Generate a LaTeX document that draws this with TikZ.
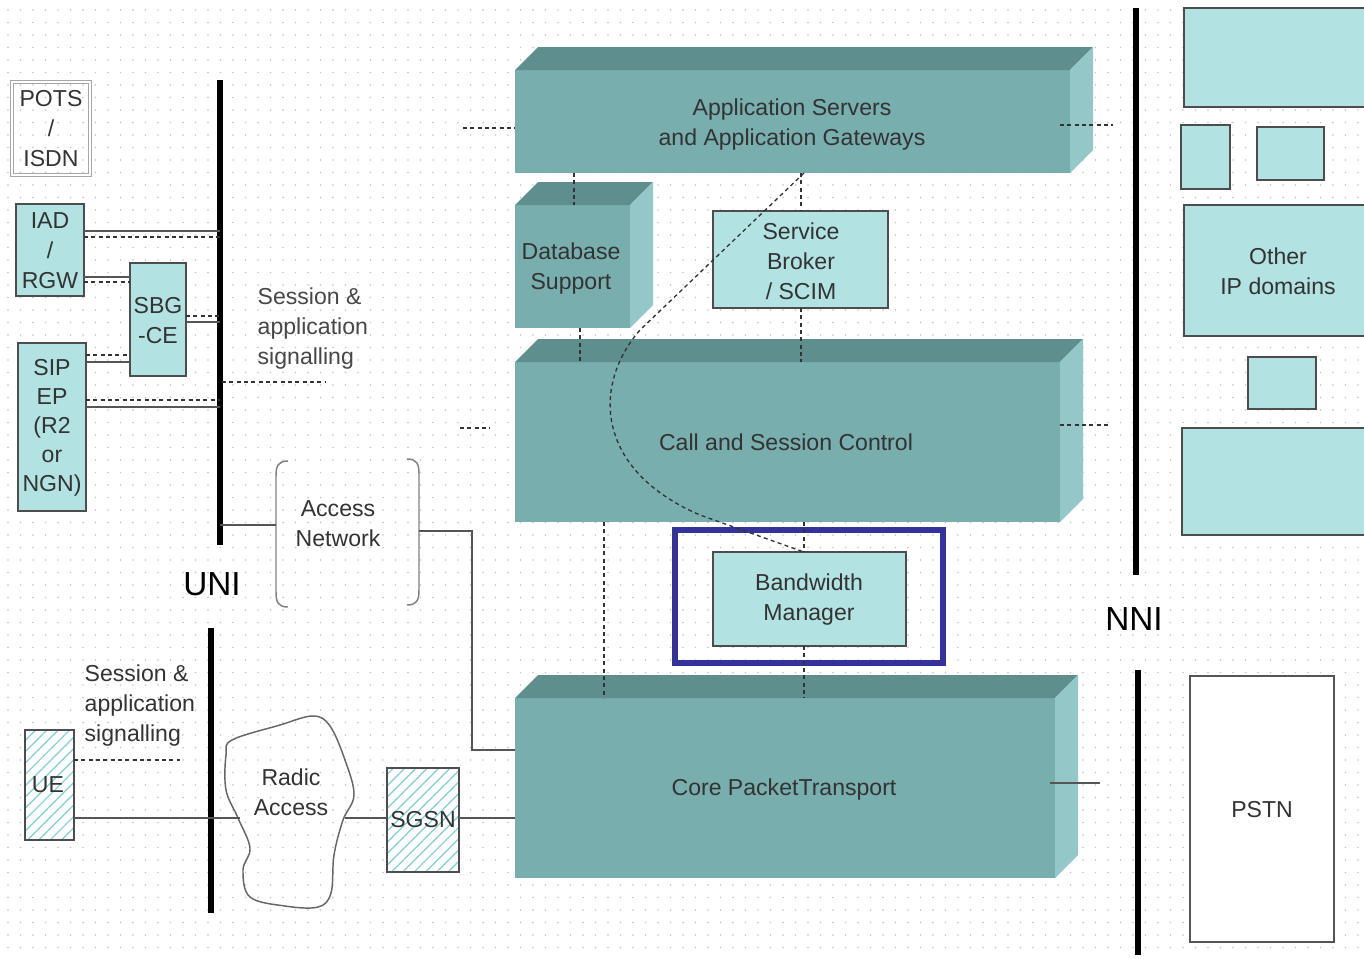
\documentclass[tikz,border=0pt]{standalone}
\usepackage{fontspec}
\setmainfont{Liberation Sans}
\usetikzlibrary{fit,patterns.meta}
\definecolor{frontc}{HTML}{78AEAE}
\definecolor{topc}{HTML}{5E8E8E}
\definecolor{sidec}{HTML}{94C8C8}
\definecolor{flatc}{HTML}{B2E2E2}
\definecolor{bord}{HTML}{4D4D4D}
\definecolor{txt}{HTML}{333333}
\definecolor{framec}{HTML}{333399}
\definecolor{hatchc}{HTML}{7FCFD6}
\definecolor{dotc}{HTML}{C4C4C4}
\definecolor{linec}{HTML}{555555}
\newcommand\lblfont{\fontsize{17.3}{22.5}\selectfont}
\begin{document}
\begin{tikzpicture}[x=0.75pt,y=-0.75pt,
  lbl/.style={font=\lblfont, text=txt, align=center},
  flat/.style={draw=bord, line width=1.1pt, fill=flatc, inner sep=0pt, outer sep=0pt},
  face/.style={fill=frontc, inner sep=0pt, outer sep=0pt},
  hatchbox/.style={draw=bord, line width=1.1pt, inner sep=0pt, outer sep=0pt,
     preaction={fill=white}, pattern={Lines[angle=45,distance=6pt,line width=0.9pt]}, pattern color=hatchc},
  plainbox/.style={draw=linec, line width=1.1pt, fill=white, inner sep=0pt, outer sep=0pt},
  conn/.style={draw=linec, line width=1.1pt},
  dline/.style={draw=txt, line width=1pt, dash pattern=on 3pt off 2.5pt},
  bar/.style={draw=black, line width=3.8pt},
  topface/.style={fill=topc},
  sideface/.style={fill=sidec}
]
\fill[white] (0,0) rectangle (1364,958);
\useasboundingbox (0,0) rectangle (1364,958);
% dotted background
\foreach \y in {10,22.5,...,958} {
  \draw[dotc, line width=1.3pt, line cap=round, dash pattern=on 0pt off 9.375pt] (8,\y) -- (1364,\y);
}

% ---------- 3D boxes ----------
\node[face, fit={(515,70)(1070,173)}] (app) {};
\node[lbl] (applbl) at (792,125) {Application Servers\\and Application Gateways};
\node[face, fit={(515,205)(630,328)}] (db) {};
\node[lbl] (dblbl) at (571,269) {Database\\Support};
\node[face, fit={(515,362)(1060,522)}] (call) {};
\node[lbl] (calllbl) at (786,442) {Call and Session Control};
\node[face, fit={(515,698)(1055,878)}] (core) {};
\node[lbl] (corelbl) at (784,790) {Core PacketTransport};
\foreach \n in {app,db,call,core} {
  \fill[topface] (\n.north west) -- ++(23,-23) -- ([shift={(23,-23)}]\n.north east) -- (\n.north east) -- cycle;
  \fill[sideface] (\n.north east) -- ++(23,-23) -- ([shift={(23,-23)}]\n.south east) -- (\n.south east) -- cycle;
}

% ---------- flat boxes ----------
\node[flat, fit={(713,211)(888,308)}] (sb) {};
\node[lbl] (sblbl) at (801,261) {Service\\Broker\\/ SCIM};
\node[flat, fit={(713,552)(906,646)}] (bw) {};
\node[lbl] (bwlbl) at (809,600) {Bandwidth\\Manager};
\draw[framec, line width=3.8pt] (675,530) rectangle (943,663);

% ---------- connectors among central boxes ----------
\coordinate (xa) at (574,0);
\coordinate (xb) at (580,0);
\coordinate (xc) at (801,0);
\coordinate (xd) at (804,0);
\coordinate (xe) at (604,0);
\draw[dline] (app.south -| xa) -- (db.north -| xa);
\draw[dline] (db.south -| xb) -- (call.north -| xb);
\draw[dline] (app.south -| xc) -- (sb.north -| xc);
\draw[dline] (sb.south -| xc) -- (call.north -| xc);
\draw[dline] (call.south -| xd) -- (bw.north -| xd);
\draw[dline] (bw.south -| xd) -- (core.north -| xd);
\draw[dline] (call.south -| xe) -- (core.north -| xe);
\draw[dline] (app.south -| xd) -- (640,330) .. controls (592,385) and (595,470) .. (700,515) -- (bw.north -| xd);
% stubs left and right
\coordinate (aL) at (463,128);
\coordinate (aR) at (1113,125);
\coordinate (cL) at (460,428);
\coordinate (cR) at (1110,425);
\coordinate (kR) at (1100,783);
\draw[dline] (aL) -- (app.west |- aL);
\draw[dline] (1060,125) -- (aR);
\draw[dline] (cL) -- (490,428);
\draw[dline] (1060,425) -- (cR);
\draw[conn] (1050,783) -- (kR);

% ---------- UNI / NNI bars ----------
\coordinate (uniTop) at (220,80);
\coordinate (uniBot) at (220,545);
\draw[bar] (uniTop) -- (uniBot);
\draw[bar] (211,628) -- (211,913);
\node[font=\fontsize{25}{25}\selectfont, text=black] (uni) at (212,584) {UNI};
\draw[bar] (1136,8) -- (1136,575);
\draw[bar] (1138,670) -- (1138,955);
\node[font=\fontsize{25}{25}\selectfont, text=black] (nni) at (1134,619) {NNI};

% ---------- left terminals ----------
\node[fit={(12,82)(90,175)}, inner sep=0pt, draw=gray!70, double=white, line width=0.9pt, double distance=1.2pt] (pots) {};
\node[lbl] (potslbl) at (51,129) {POTS\\/\\ISDN};
\node[flat, fit={(16,204)(84,296)}] (iad) {};
\node[lbl] (iadlbl) at (50,251) {IAD\\/\\RGW};
\node[flat, fit={(130,263)(186,376)}] (sbg) {};
\node[lbl] (sbglbl) at (158,321) {SBG\\-CE};
\node[flat, fit={(18,343)(86,511)}] (sip) {};
\node[lbl, font=\fontsize{17.3}{21.8}\selectfont] (siplbl) at (52,428) {SIP\\EP\\(R2\\or\\NGN)};

\coordinate (u231) at (220,231);
\coordinate (u237) at (220,237);
\coordinate (u316) at (220,316);
\coordinate (u322) at (220,322);
\coordinate (u400) at (220,400);
\coordinate (u407) at (220,407);
\coordinate (s277) at (130,277);
\coordinate (s282) at (130,282);
\coordinate (s355) at (130,355);
\coordinate (s362) at (130,362);
\draw[conn] (iad.east |- u231) -- (u231);
\draw[dline] (iad.east |- u237) -- (u237);
\draw[conn] (iad.east |- s277) -- (sbg.west |- s277);
\draw[dline] (iad.east |- s282) -- (sbg.west |- s282);
\draw[dline] (sbg.east |- u316) -- (u316);
\draw[conn] (sbg.east |- u322) -- (u322);
\draw[dline] (sip.east |- s355) -- (sbg.west |- s355);
\draw[conn] (sip.east |- s362) -- (sbg.west |- s362);
\draw[dline] (sip.east |- u400) -- (u400);
\draw[conn] (sip.east |- u407) -- (u407);
\coordinate (sig1) at (325,382);
\draw[dline] (222,382) -- (sig1);
\node[lbl, align=left, anchor=west, text=txt!90] (sess1) at (253,329) {Session \&\\application\\signalling};

% ---------- access network ----------
\node[fit={(276,460)(420,607)}, inner sep=0pt] (acc) {};
\node[lbl] (acclbl) at (338,524) {Access\\Network};
\draw[conn, draw=gray] (288,461) .. controls (278,461) and (276,466) .. (276,476) -- (276,592) .. controls (276,602) and (278,607) .. (288,607);
\draw[conn, draw=gray] (407,459) .. controls (417,459) and (419,464) .. (419,474) -- (419,590) .. controls (419,600) and (417,605) .. (407,605);
\coordinate (uniA) at (220,525);
\coordinate (accR) at (419,531);
\coordinate (core750) at (472,750);
\draw[conn] (uniA) -- (acc.west |- uniA);
\draw[conn] (accR) -- (472,531) -- (core750) -- (core.west |- core750);

% ---------- lower left ----------
\node[lbl, align=left, anchor=west] (sess2) at (80,706) {Session \&\\application\\signalling};
\node[hatchbox, fit={(25,730)(74,840)}] (ue) {};
\node[lbl] (uelbl) at (48,785) {UE};
\coordinate (uesig) at (180,760);
\draw[dline] (ue.east |- uesig) -- (uesig);
\draw[conn, draw=gray!80!black, line width=1.1pt] plot[smooth cycle, tension=0.6] coordinates {(232,740) (280,725) (313,716) (330,726) (345,760) (354,795) (343,820) (334,855) (331,893) (318,907) (285,906) (250,897) (243,870) (250,848) (238,818) (226,790) (226,755)};
\node[lbl] (radio) at (291,792) {Radic\\Access};
\coordinate (cloudL) at (240,818);
\coordinate (cloudR) at (345,818);
\draw[conn] (ue.east |- cloudL) -- (cloudL);
\node[hatchbox, fit={(387,768)(459,872)}] (sgsn) {};
\node[lbl] (sgsnlbl) at (423,820) {SGSN};
\draw[conn] (cloudR) -- (sgsn.west |- cloudR);
\draw[conn] (sgsn.east |- cloudR) -- (core.west |- cloudR);

% ---------- right side ----------
\node[flat, fit={(1184,8)(1372,107)}] (r1) {};
\node[flat, fit={(1181,125)(1230,189)}] (r2) {};
\node[flat, fit={(1257,127)(1324,180)}] (r3) {};
\node[flat, fit={(1184,205)(1372,336)}] (r4) {};
\node[lbl] (r4lbl) at (1278,271) {Other\\IP domains};
\node[flat, fit={(1248,357)(1316,409)}] (r5) {};
\node[flat, fit={(1182,428)(1372,535)}] (r6) {};
\node[plainbox, fit={(1190,676)(1334,942)}] (pstn) {};
\node[lbl] (pstnlbl) at (1262,810) {PSTN};
\end{tikzpicture}
\end{document}
